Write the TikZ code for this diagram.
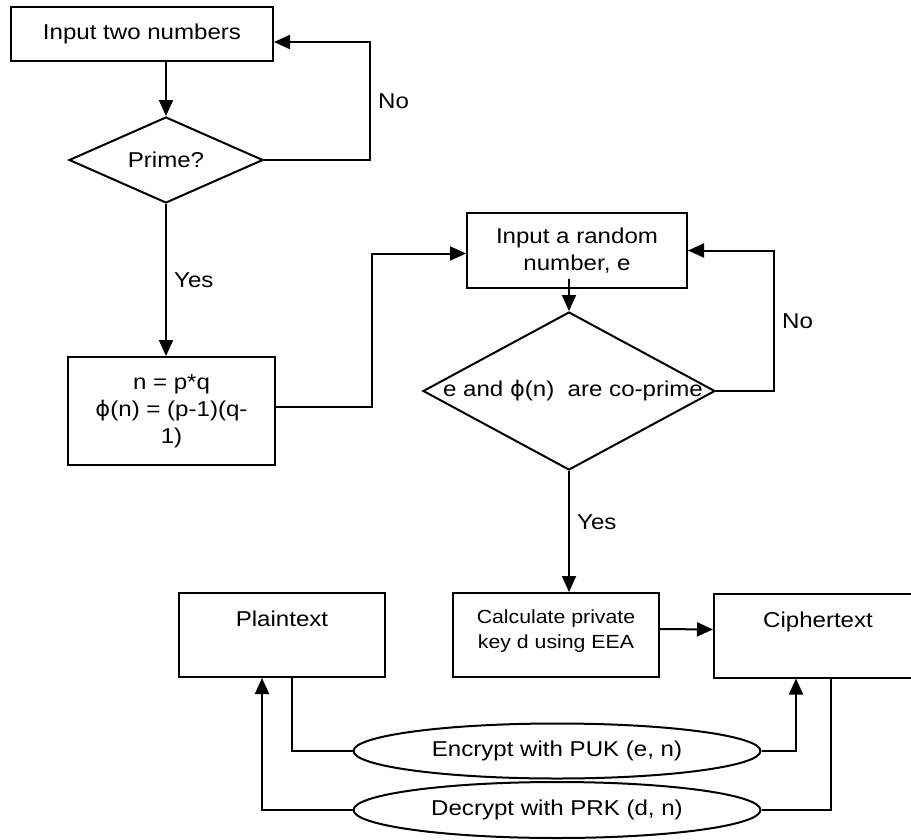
\documentclass[tikz,border=0pt]{standalone}
\usepackage{fontspec}
\setmainfont{Liberation Sans}[FakeStretch=1.12]
\newfontfamily\phifont{DejaVu Sans}[FakeStretch=1.05]
\usetikzlibrary{positioning,calc,arrows.meta,shapes.geometric}
\newcommand{\phin}{{\phifont ϕ}}
\tikzset{
  >={Triangle[length=16pt,width=14pt]},
  my box/.style={
    draw,
    rectangle,
    align=center,
    inner sep=0pt
  },
  my top box/.style={
    my box,
    minimum width=206pt,
    minimum height=84pt,
    text height=17pt,
    text depth=34pt
  },
  my decision/.style={
    draw,
    diamond,
    shape aspect=2.2,
    inner sep=0pt
  },
  my oval/.style={
    draw,
    ellipse,
    inner sep=0pt,
    minimum width=407pt
  },
  my flow/.style={
    x=1pt,y=-1pt,
    line width=2pt
  }
}

\begin{document}
\begin{tikzpicture}[my flow]
\fontsize{21.5}{27}\selectfont
\useasboundingbox (0,0) rectangle (911,839);
% Choosing p and q
\node[my box,minimum width=262pt,minimum height=54pt] (inp) at (142,34) {Input two numbers};
\node[my decision,minimum width=194pt,minimum height=86pt] (prime) at (166,160) {Prime?};
\draw[->] (prime.north |- inp.south) -- (prime.north);
\draw[->] (prime.east) -- ++(106,0) |- ([yshift=-8pt]inp.east) node[pos=0.25,right] {No};
% n and phi(n)
\node[my box,minimum width=207pt,minimum height=108pt] (phi) at (171.5,411) {n = p*q\\\phin(n) = (p-1)(q-\\1)};
\draw[->] (prime.south) -- (prime.south |- phi.north) node[midway,right] {Yes};
% Choosing e
\node[my box,minimum width=220pt,minimum height=75pt] (rnd) at (577,250.5) {Input a random\\number, e};
\draw[->] ([yshift=4pt]phi.east) -- ++(96,0) |- ([yshift=-3pt]rnd.west);
\node[my decision,minimum width=292pt,minimum height=158pt] (cop) at (569,391) {\makebox[0pt]{\hspace{8pt}\raisebox{-7pt}{e and \phin(n)\ \ are co-prime}}};
\draw[->] ([yshift=10pt]cop.north |- rnd.south) -- (cop.north);
\draw[->] (cop.east) -- ++(58,0) |- (rnd.east) node[pos=0.25,right] {No};
% Private key
\node[my box,minimum width=206pt,minimum height=84pt,text depth=12pt,font=\fontsize{19}{25}\selectfont] (calc) at (556,635) {Calculate private\\key d using EEA};
\draw[->] (cop.south) -- (cop.south |- calc.north) node[pos=0.42,right] {Yes};
% Plaintext and ciphertext
\node[my top box] (plain) at (282,635) {Plaintext};
\node[my top box,minimum width=208pt] (cipher) at (818,635.5) {Ciphertext};
\draw[->] ([yshift=6pt]calc.east) -- ([yshift=6pt]cipher.west);
% Encryption and decryption
\node[my oval,minimum height=55pt] (enc) at (557,751) {Encrypt with PUK (e, n)};
\node[my oval,minimum height=56pt] (dec) at (557,810) {Decrypt with PRK (d, n)};
\draw ([xshift=10pt]plain.south) |- (enc.west);
\draw[->] (enc.east) -| ([xshift=-22pt]cipher.south);
\draw ([xshift=12.5pt]cipher.south) |- (dec.east);
\draw[->] (dec.west) -| ([xshift=-20pt]plain.south);
\end{tikzpicture}
\end{document}
